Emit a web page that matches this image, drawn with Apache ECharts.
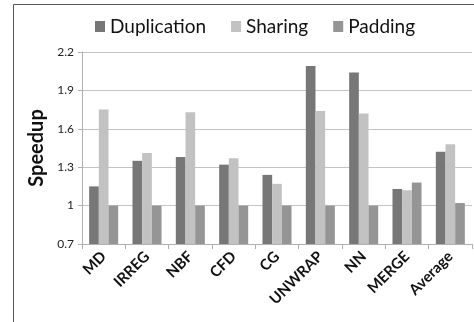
<!DOCTYPE html>
<html><head><meta charset="utf-8">
<script src="https://cdn.jsdelivr.net/npm/echarts@6/dist/echarts.min.js"></script>
<style>html,body{margin:0;padding:0;background:#fff}#c{width:474px;height:322px}</style>
</head><body><div id="c"></div>
<script>
const categories = ["MD","IRREG","NBF","CFD","CG","UNWRAP","NN","MERGE","Average"];
const duplication = [1.15,1.35,1.38,1.32,1.24,2.09,2.04,1.13,1.42];
const sharing = [1.75,1.41,1.73,1.37,1.17,1.74,1.72,1.12,1.48];
const padding = [1.0,1.0,1.0,1.0,1.0,1.0,1.0,1.18,1.02];
const yTicks = [0.7,1.0,1.3,1.6,1.9,2.2];

const font = "Lato, 'Open Sans', sans-serif";
const chart = echarts.init(document.getElementById('c'), null, {renderer:'canvas'});
const mk = (name, data, color) => ({
  name, type:'bar', data, barGap:'0%', barCategoryGap:'33%',
  itemStyle:{color}, animation:false
});
chart.setOption({
  animation:false,
  textStyle:{fontFamily:font},
  legend:{
    top:12, left:90, itemWidth:10, itemHeight:11, itemGap:25,
    icon:'rect',
    textStyle:{fontSize:19, color:'#111', fontFamily:font},
    data:['Duplication','Sharing','Padding']
  },
  grid:{left:82, right:2, top:52, bottom:78},
  xAxis:{
    type:'category', data:categories,
    axisLine:{lineStyle:{color:'#b0b0b0'}},
    axisTick:{show:true, length:5, lineStyle:{color:'#b0b0b0'}},
    axisLabel:{rotate:45, fontWeight:'bold', fontSize:15, color:'#111', margin:10, fontFamily:font}
  },
  yAxis:{
    type:'value', min:yTicks[0], max:yTicks[yTicks.length-1], interval:0.3,
    name:'Speedup', nameLocation:'middle', nameGap:34,
    nameTextStyle:{fontWeight:'bold', fontSize:20, color:'#111', fontFamily:font},
    axisLine:{show:true, lineStyle:{color:'#b0b0b0'}},
    axisTick:{show:true, length:4, lineStyle:{color:'#b0b0b0'}},
    axisLabel:{fontSize:12, color:'#222', margin:8, formatter:v=>String(+v.toFixed(1))},
    splitLine:{lineStyle:{color:'#c4c4c4'}}
  },
  graphic:[
    {type:'line', shape:{x1:13.5,y1:4.5,x2:474,y2:4.5}, style:{stroke:'#555', lineWidth:1}},
    {type:'line', shape:{x1:13.5,y1:4.5,x2:13.5,y2:322}, style:{stroke:'#555', lineWidth:1}}
  ],
  series:[
    mk('Duplication', duplication, '#777777'),
    mk('Sharing', sharing, '#c2c2c2'),
    mk('Padding', padding, '#959595')
  ]
});
</script></body></html>
